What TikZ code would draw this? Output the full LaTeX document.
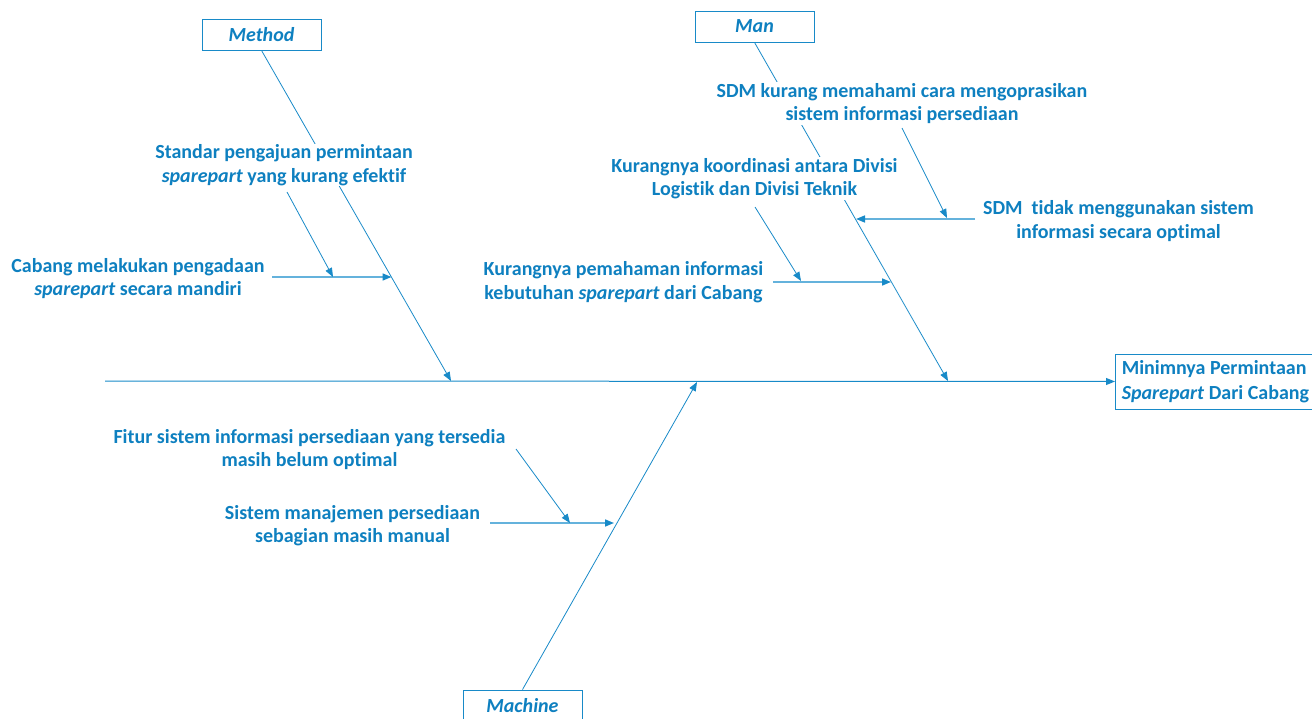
\documentclass[tikz,border=0pt]{standalone}
\usepackage{fontspec}
\setmainfont{Carlito}[Ligatures={NoCommon}]
\usetikzlibrary{arrows.meta}
\definecolor{fbtext}{RGB}{14,128,192}
\definecolor{fbline}{RGB}{24,138,200}
\definecolor{fbsub}{RGB}{100,178,220}
\tikzset{
  lbl/.style={text=fbtext,font=\fontsize{20}{23.5}\selectfont\bfseries,align=center,fill=white,inner sep=1pt},
  catbox/.style={draw=fbline,line width=0.9pt,text=fbtext,font=\fontsize{20}{22}\selectfont\bfseries\itshape,minimum width=119pt,minimum height=31pt,inner sep=0pt,fill=white},
  bone/.style={draw=fbline,line width=0.8pt},
  tip/.style={-{Triangle[length=9pt,width=7pt]}},
  subbone/.style={draw=fbsub,line width=1.6pt,-{Triangle[length=9pt,width=7pt,fill=fbline,color=fbline]}},
  spine/.style={draw=fbline,line width=1pt,-{Triangle[length=9pt,width=7pt]}}
}
\begin{document}
\begin{tikzpicture}[x=1pt,y=-1pt]
\useasboundingbox (0,0) rectangle (1312,719);
\clip (0,0) rectangle (1312,719);
% category boxes and effect
\node[catbox] (method) at (261.5,34.5) {Method};
\node[catbox] (man) at (754.5,26.5) {Man};
\node[catbox] (machine) at (522.5,705.5) {Machine};
\node[draw=fbline,line width=0.9pt,text=fbtext,font=\fontsize{20}{24.5}\selectfont\bfseries,align=left,anchor=west,minimum height=55pt,minimum width=200pt,inner xsep=6pt] (effect) at (1115,381.5) {Minimnya Permintaan\\\textit{Sparepart} Dari Cabang};
% spine coordinates
\coordinate (tail) at (105,381);
\coordinate (sMethod) at (451,381);
\coordinate (sMan) at (948,381);
\coordinate (sMachine) at (697,382);
% spine
\draw[spine] (tail) -- (effect.west);
% main bones
\draw[bone,tip] (method.south) -- (sMethod);
\draw[bone,tip] (man.south) -- (sMan);
\draw[bone,tip] (machine.north) -- (sMachine);
% sub-bone coordinates
\coordinate (cabA) at (272,277);
\coordinate (cabB) at (391.5,277);
\coordinate (stdA) at (287,192);
\coordinate (stdB) at (333,277);
\coordinate (sdmkA) at (902,128);
\coordinate (sdmkB) at (947,218);
\coordinate (sdmtA) at (975,219);
\coordinate (sdmtB) at (856,219);
\coordinate (korA) at (755,207);
\coordinate (korB) at (801,281);
\coordinate (pemA) at (773,282);
\coordinate (pemB) at (891,282);
\coordinate (fitA) at (516,449);
\coordinate (fitB) at (570,523);
\coordinate (sisA) at (490,523);
\coordinate (sisB) at (614,523);
% sub-bones
\draw[subbone] (cabA) -- (cabB);
\draw[subbone] (sdmtA) -- (sdmtB);
\draw[subbone] (pemA) -- (pemB);
\draw[subbone] (sisA) -- (sisB);
\draw[bone,tip] (stdA) -- (stdB);
\draw[bone,tip] (sdmkA) -- (sdmkB);
\draw[bone,tip] (korA) -- (korB);
\draw[bone,tip] (fitA) -- (fitB);
% labels
\node[lbl] (std) at (284,165) {Standar pengajuan permintaan\\\textit{sparepart} yang kurang efektif};
\node[lbl] (cab) at (138,278.5) {Cabang melakukan pengadaan\\\textit{sparepart} secara mandiri};
\node[lbl] (sdmk) at (902,103.5) {SDM kurang memahami cara mengoprasikan\\sistem informasi persediaan};
\node[lbl] (kor) at (754.5,178.5) {Kurangnya koordinasi antara Divisi\\Logistik dan Divisi Teknik};
\node[lbl] (sdmt) at (1118.5,221) {SDM\ \ tidak menggunakan sistem\\informasi secara optimal};
\node[lbl] (pem) at (623.5,282) {Kurangnya pemahaman informasi\\kebutuhan \textit{sparepart} dari Cabang};
\node[lbl] (fit) at (309.5,449.5) {Fitur sistem informasi persediaan yang tersedia\\masih belum optimal};
\node[lbl] (sis) at (352.5,525.5) {Sistem manajemen persediaan\\sebagian masih manual};
\end{tikzpicture}
\end{document}
